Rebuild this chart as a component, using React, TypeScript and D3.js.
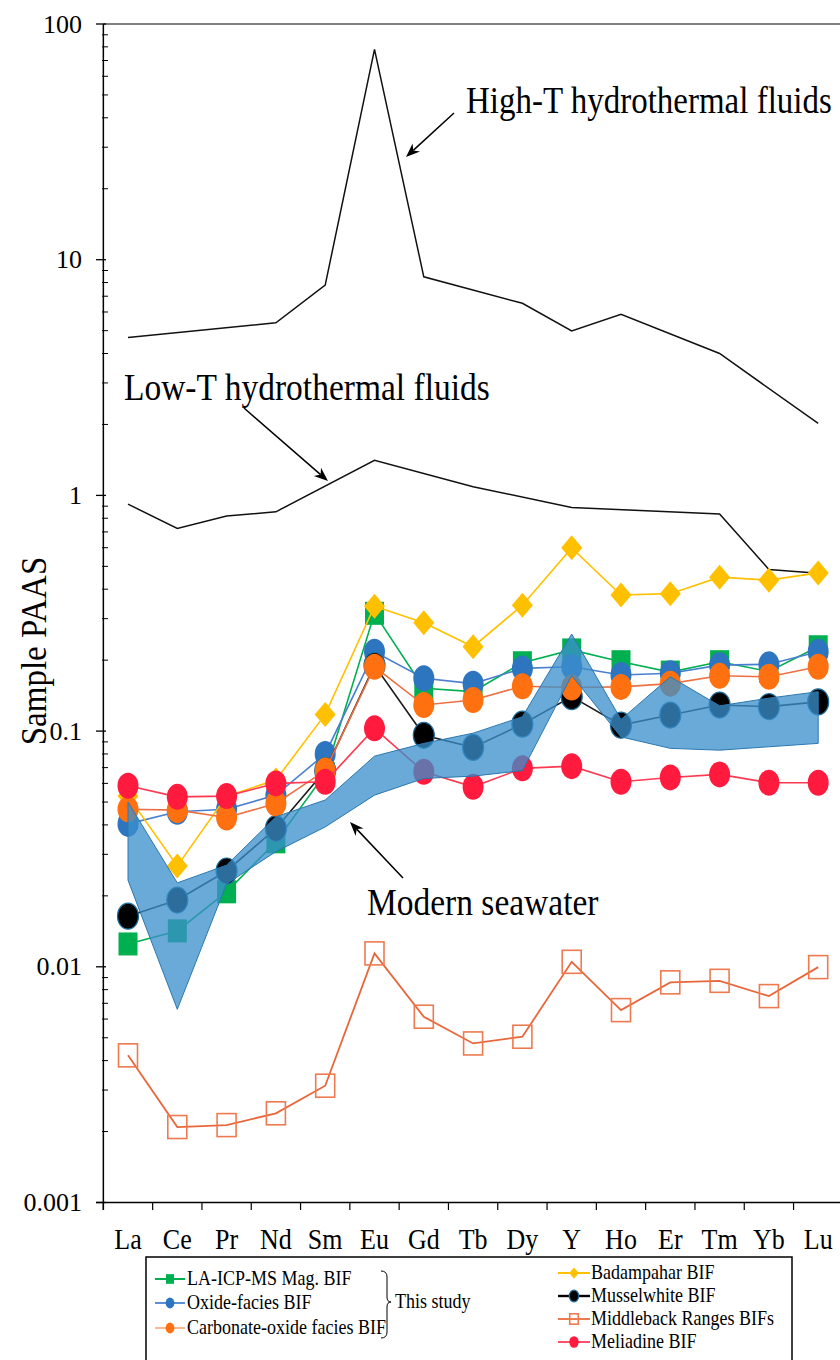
import React from 'react';
import * as d3 from 'd3';

// ---------- data ----------
const elements = ["La", "Ce", "Pr", "Nd", "Sm", "Eu", "Gd", "Tb", "Dy", "Y", "Ho", "Er", "Tm", "Yb", "Lu"];

const yTickValues = [0.001, 0.01, 0.1, 1, 10, 100];
const yTickLabels = ["0.001", "0.01", "0.1", "1", "10", "100"];

// hydrothermal reference curves (null = no vertex at that element)
const highTFluids: (number | null)[] = [4.68, null, null, 5.40, 7.80, 78, 8.46, null, 6.53, 4.99, 5.86, null, 4.00, null, 2.02];
const lowTFluids: (number | null)[] = [0.918, 0.724, 0.817, 0.852, null, 1.41, null, 1.088, null, 0.889, null, null, 0.833, 0.485, 0.467];

// modern seawater envelope
const seawaterUpper = [0.050, 0.0227, 0.027, 0.0433, 0.051, 0.0783, 0.0887, 0.098, 0.115, 0.258, 0.112, 0.170, 0.128, 0.138, 0.147];
const seawaterLower = [0.0233, 0.0066, 0.0225, 0.0308, 0.0392, 0.0535, 0.063, 0.0644, 0.068, 0.172, 0.0945, 0.0845, 0.083, 0.0858, 0.0887];

// sample series
const laIcpMsMag = [0.0125, 0.0142, 0.0208, 0.0339, 0.066, 0.316, 0.152, 0.147, 0.195, 0.221, 0.197, 0.178, 0.197, 0.179, 0.228];
const oxideFacies = [0.0404, 0.0455, 0.0466, 0.0535, 0.080, 0.217, 0.1675, 0.159, 0.1845, 0.1875, 0.173, 0.176, 0.1905, 0.192, 0.217];
const carbonateOxide = [0.0466, 0.0462, 0.0430, 0.0493, 0.068, 0.1875, 0.129, 0.1355, 0.155, 0.153, 0.154, 0.159, 0.1716, 0.170, 0.1875];
const badampahar = [0.053, 0.0268, 0.053, 0.062, 0.1177, 0.339, 0.288, 0.228, 0.342, 0.599, 0.378, 0.383, 0.45, 0.437, 0.469];
const musselwhite = [0.0164, 0.0192, 0.0255, 0.0386, 0.068, 0.19, 0.096, 0.0853, 0.107, 0.140, 0.106, 0.117, 0.129, 0.127, 0.133];
const middleback = [0.00421, 0.00209, 0.00213, 0.00239, 0.00313, 0.0114, 0.00614, 0.00473, 0.00505, 0.0105, 0.00655, 0.00859, 0.00872, 0.00751, 0.00997];
const meliadine = [0.0586, 0.0526, 0.053, 0.060, 0.061, 0.1027, 0.0672, 0.058, 0.0695, 0.071, 0.061, 0.0636, 0.0655, 0.0604, 0.0604];

const seriesNames = [
  "LA-ICP-MS Mag. BIF",
  "Oxide-facies BIF",
  "Carbonate-oxide facies BIF",
  "Badampahar BIF",
  "Musselwhite BIF",
  "Middleback Ranges BIFs",
  "Meliadine BIF",
];

const FONT = "Liberation Serif, Times New Roman, serif";

type MarkerKind = 'square' | 'circle' | 'diamond' | 'hollow' | 'blackcircle';

function Marker({ kind, x, y, fill, stroke, s = 1 }: { kind: MarkerKind; x: number; y: number; fill: string; stroke?: string; s?: number }) {
  if (kind === 'square') return <rect x={x - 9.5 * s} y={y - 11.5 * s} width={19 * s} height={23 * s} fill={fill} stroke={stroke || 'none'} strokeWidth={0.6} />;
  if (kind === 'hollow') return <rect x={x - 9.5 * s} y={y - 11.5 * s} width={19 * s} height={23 * s} fill="none" stroke={fill} strokeWidth={1.6} />;
  if (kind === 'diamond') return <path d={`M${x},${y - 12.5 * s}L${x + 10.5 * s},${y}L${x},${y + 12.5 * s}L${x - 10.5 * s},${y}Z`} fill={fill} />;
  if (kind === 'blackcircle') return <ellipse cx={x} cy={y} rx={10.5 * s} ry={13 * s} fill={fill} stroke={stroke} strokeWidth={1.2} />;
  return <ellipse cx={x} cy={y} rx={10.5 * s} ry={13 * s} fill={fill} />;
}

function SText({ x, y, size, anchor = 'start', sy = 1.1, children }: any) {
  return (
    <text transform={`translate(${x},${y}) scale(1,${sy})`} fontSize={size} fontFamily={FONT} textAnchor={anchor} fill="#000">
      {children}
    </text>
  );
}

export default function App() {
  const W = 840, H = 1360;
  const x = d3.scaleBand<string>().domain(elements).range([103.35, 842.85]).paddingInner(0).paddingOuter(0);
  const cx = (i: number) => (x(elements[i]) as number) + x.bandwidth() / 2;
  const y = d3.scaleLog().domain([0.001, 100]).range([1202.5, 24]);

  const lineFrom = (vals: (number | null)[]) => {
    const pts: [number, number][] = [];
    vals.forEach((v, i) => { if (v != null) pts.push([cx(i), y(v)]); });
    return d3.line()(pts) || '';
  };

  const band = d3.area<number>()
    .x((_, i) => cx(i))
    .y0((_, i) => y(seawaterLower[i]))
    .y1((_, i) => y(seawaterUpper[i]))(seawaterUpper) || '';

  const minorTicks: number[] = [];
  for (let d = 0.001; d < 100; d *= 10) for (let k = 2; k <= 9; k++) minorTicks.push(k * d);

  const series = [
    { vals: middleback, line: '#e8673a', mfill: '#ee7a50', kind: 'hollow' as MarkerKind, lw: 1.8 },
    { vals: laIcpMsMag, line: '#00b050', mfill: '#00b050', kind: 'square' as MarkerKind, lw: 1.6 },
    { vals: oxideFacies, line: '#4a7fd0', mfill: '#2e75c0', kind: 'circle' as MarkerKind, lw: 1.6 },
    { vals: musselwhite, line: '#1a1a1a', mfill: '#000000', kind: 'blackcircle' as MarkerKind, lw: 1.6, mstroke: '#1d6e9e' },
    { vals: badampahar, line: '#ffc000', mfill: '#ffc000', kind: 'diamond' as MarkerKind, lw: 1.6 },
    { vals: carbonateOxide, line: '#ec7043', mfill: '#ff7010', kind: 'circle' as MarkerKind, lw: 1.6 },
    { vals: meliadine, line: '#ff3850', mfill: '#ff1a3e', kind: 'circle' as MarkerKind, lw: 1.6 },
  ];

  const arrow = (x1: number, y1: number, x2: number, y2: number) => {
    const ang = Math.atan2(y2 - y1, x2 - x1);
    const L = 14, Wd = 5.5;
    const bx = x2 - L * Math.cos(ang), by = y2 - L * Math.sin(ang);
    const px = -Math.sin(ang) * Wd, py = Math.cos(ang) * Wd;
    const ix = x2 - L * 0.7 * Math.cos(ang), iy = y2 - L * 0.7 * Math.sin(ang);
    return (
      <g>
        <line x1={x1} y1={y1} x2={ix} y2={iy} stroke="#000" strokeWidth={1.5} />
        <path d={`M${x2},${y2}L${bx + px},${by + py}L${ix},${iy}L${bx - px},${by - py}Z`} fill="#000" />
      </g>
    );
  };

  const legLeft = [
    { name: seriesNames[0], line: '#00b050', fill: '#00b050', kind: 'square' as MarkerKind, y: 1279 },
    { name: seriesNames[1], line: '#5b8fd6', fill: '#2e75c0', kind: 'circle' as MarkerKind, y: 1303 },
    { name: seriesNames[2], line: '#f8b890', fill: '#ff7010', kind: 'circle' as MarkerKind, y: 1328 },
  ];
  const legRight = [
    { name: seriesNames[3], line: '#ffc000', fill: '#ffc000', kind: 'diamond' as MarkerKind, y: 1273 },
    { name: seriesNames[4], line: '#000000', fill: '#000000', kind: 'blackcircle' as MarkerKind, y: 1296, stroke: '#1d6e9e' },
    { name: seriesNames[5], line: '#ee7a50', fill: '#ee7a50', kind: 'hollow' as MarkerKind, y: 1319 },
    { name: seriesNames[6], line: '#ff5070', fill: '#ff1a3e', kind: 'circle' as MarkerKind, y: 1342 },
  ];

  return (
    <svg width={W} height={H} style={{ position: 'absolute', left: 0, top: 0, background: '#fff' }} xmlns="http://www.w3.org/2000/svg">
      <rect width={W} height={H} fill="#fff" />

      {/* axes */}
      <line x1={103.35} y1={24} x2={103.35} y2={1210} stroke="#000" strokeWidth={1.5} />
      <line x1={96} y1={1202.5} x2={W} y2={1202.5} stroke="#000" strokeWidth={1.5} />
      <line x1={103.35} y1={24} x2={W} y2={24} stroke="#000" strokeWidth={1.2} />
      {yTickValues.map((v, i) => (
        <g key={'yt' + i}>
          <line x1={96} x2={106} y1={y(v)} y2={y(v)} stroke="#000" strokeWidth={1.3} />
          <SText x={82} y={y(v) + 8.5} size={26} anchor="end" sy={1.0}>{yTickLabels[i]}</SText>
        </g>
      ))}
      {minorTicks.map((v, i) => (
        <line key={'mt' + i} x1={102} x2={108} y1={y(v)} y2={y(v)} stroke="#000" strokeWidth={1} />
      ))}
      {elements.map((e, i) => (
        <g key={'xt' + e}>
          <line x1={x(e) as number} x2={x(e) as number} y1={1202.5} y2={1210} stroke="#000" strokeWidth={1.2} />
          <SText x={cx(i)} y={1249} size={26} anchor="middle" sy={1.15}>{e}</SText>
        </g>
      ))}
      <g transform="translate(46,651) rotate(-90)">
        <text fontSize={33} fontFamily={FONT} textAnchor="middle" transform="scale(1,1.08)">Sample PAAS</text>
      </g>

      {/* hydrothermal fluids */}
      <path d={lineFrom(highTFluids)} fill="none" stroke="#111" strokeWidth={1.5} />
      <path d={lineFrom(lowTFluids)} fill="none" stroke="#111" strokeWidth={1.5} />

      {/* series */}
      {series.map((s, si) => (
        <g key={'s' + si}>
          <path d={lineFrom(s.vals)} fill="none" stroke={s.line} strokeWidth={s.lw} />
          {s.vals.map((v, i) => (
            <Marker key={i} kind={s.kind} x={cx(i)} y={y(v)} fill={s.mfill} stroke={(s as any).mstroke} />
          ))}
        </g>
      ))}

      {/* modern seawater envelope */}
      <path d={band} fill="#3a8fcc" fillOpacity={0.76} stroke="#2b78b0" strokeWidth={1} />

      {/* annotations */}
      <SText x={466} y={113} size={33} sy={1.12}>High-T hydrothermal fluids</SText>
      {arrow(454, 113, 406, 157)}
      <SText x={124} y={400} size={33.5} sy={1.12}>Low-T hydrothermal fluids</SText>
      {arrow(244, 408, 328, 481)}
      <SText x={367} y={915} size={33.5} sy={1.12}>Modern seawater</SText>
      {arrow(403, 878, 350, 822)}

      {/* legend */}
      <rect x={146} y={1257} width={646} height={130} fill="none" stroke="#000" strokeWidth={1.5} />
      {legLeft.map((l, i) => (
        <g key={'ll' + i}>
          <line x1={155} x2={185} y1={l.y} y2={l.y} stroke={l.line} strokeWidth={2} />
          <Marker kind={l.kind} x={170} y={l.y} fill={l.fill} s={0.42} />
          <SText x={187} y={l.y + 6} size={18} sy={1.12}>{l.name}</SText>
        </g>
      ))}
      <path d="M381,1271 Q387,1271 387,1277 L387,1297 Q387,1302 391,1302 Q387,1302 387,1307 L387,1332 Q387,1338 381,1338" fill="none" stroke="#000" strokeWidth={1} />
      <SText x={395} y={1308} size={18} sy={1.12}>This study</SText>
      {legRight.map((l, i) => (
        <g key={'lr' + i}>
          <line x1={558} x2={590} y1={l.y} y2={l.y} stroke={l.line} strokeWidth={l.kind === 'blackcircle' ? 2.4 : 2} />
          <Marker kind={l.kind} x={574} y={l.y} fill={l.fill} stroke={(l as any).stroke} s={0.45} />
          <SText x={591} y={l.y + 6} size={18} sy={1.12}>{l.name}</SText>
        </g>
      ))}
    </svg>
  );
}
